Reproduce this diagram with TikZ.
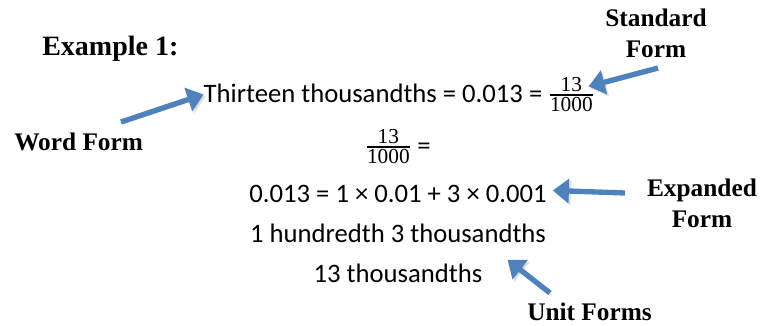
\documentclass[tikz,border=0pt]{standalone}
\usepackage{amsmath}
\usepackage{fontspec}
\setmainfont{Carlito}
\newfontfamily\labelfont{Liberation Serif}
\usetikzlibrary{arrows.meta}
\definecolor{arrowblue}{RGB}{79,129,189}
\newcommand{\frc}[2]{\genfrac{}{}{1.2pt}{1}{\mbox{\labelfont\fontsize{16}{16}\selectfont#1}}{\mbox{\labelfont\fontsize{16}{16}\selectfont#2}}}

\begin{document}
\begin{tikzpicture}[x=0.75pt,y=-0.75pt,
  font=\fontsize{20}{24}\selectfont,
  formtext/.style={inner sep=0pt,anchor=base},
  formlabel/.style={inner sep=0pt,anchor=base,align=center,
    font=\labelfont\bfseries\fontsize{19}{23}\selectfont},
  bluearrow/.style={draw=arrowblue,line width=4pt,
    -{Triangle[length=12pt,width=18pt]},arrowblue,
    preaction={draw=black,fill=black,opacity=0.12,
      transform canvas={shift={(1.5pt,-1.5pt)}}}}]
\useasboundingbox (0,0) rectangle (774,325);
% title
\node[formlabel,anchor=base west,font=\labelfont\bfseries\fontsize{21}{25}\selectfont] (title) at (42,55) {Example 1:};
% the forms
\node[formtext] (line1) at (399,102) {Thirteen thousandths = 0.013 = $\frc{13}{1000}$};
\node[formtext] (line2) at (398,154) {$\frc{13}{1000}$ =};
\node[formtext] (line3) at (398,202) {0.013 = 1 × 0.01 + 3 × 0.001};
\node[formtext] (line4) at (398,242) {1 hundredth 3 thousandths};
\node[formtext] (line5) at (398,282) {13 thousandths};
% labels
\node[formlabel] (standard) at (656,57) {Standard\\Form};
\node[formlabel,anchor=base west] (word) at (14,150) {Word Form};
\node[formlabel] (expanded) at (702,227) {Expanded\\Form};
\node[formlabel,anchor=base west] (unit) at (527,320) {Unit Forms};
% arrow tails
\coordinate (wordtail) at (121,122);
\coordinate (standardtail) at (658,68);
\coordinate (expandedtail) at (625,193);
\coordinate (unittail) at (550,293);
% arrows
\draw[bluearrow] (wordtail) -- (line1.west);
\draw[bluearrow] (standardtail) -- ([shift={(-6,-8)}]line1.east);
\draw[bluearrow] (expandedtail) -- ([shift={(6,-3)}]line3.east);
\draw[bluearrow] (unittail) -- ([shift={(25,-13)}]line5.east);
\end{tikzpicture}
\end{document}
